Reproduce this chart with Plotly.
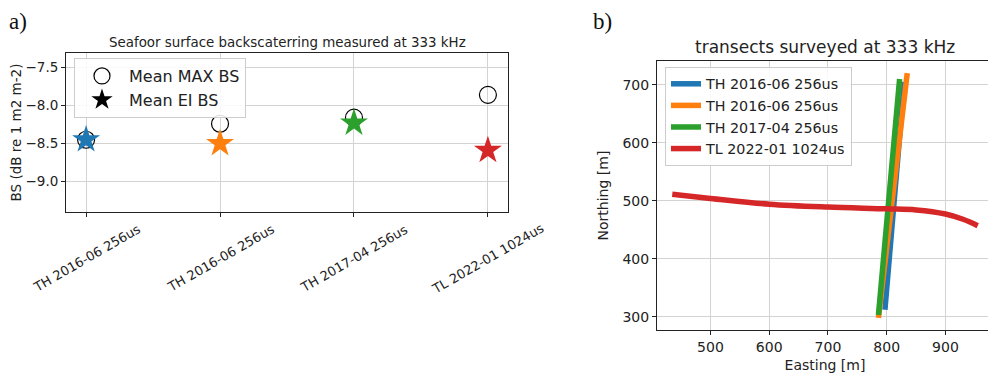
import plotly.graph_objects as go

# ---------------- data ----------------
survey_labels = ["TH 2016-06 256us", "TH 2016-06 256us", "TH 2017-04 256us", "TL 2022-01 1024us"]
mean_max_bs = [-8.45, -8.24, -8.16, -7.86]
mean_ei_bs = [-8.45, -8.50, -8.23, -8.59]
series_colors = ["#1f77b4", "#ff7f0e", "#2ca02c", "#d62728"]

transect_names = ["TH 2016-06 256us", "TH 2016-06 256us", "TH 2017-04 256us", "TL 2022-01 1024us"]
east_th1 = [797, 830]
north_th1 = [312, 705]
east_th2 = [786, 835]
north_th2 = [298, 720]
east_th3 = [786, 822]
north_th3 = [303, 710]
east_tl = [435, 500, 600, 700, 800, 850, 900, 930, 955]
north_tl = [511, 504, 494, 489, 486, 484, 477, 468, 457]

left_yticks = [-7.5, -8.0, -8.5, -9.0]
right_xticks = [500, 600, 700, 800, 900]
right_yticks = [300, 400, 500, 600, 700]

# The page body has an 8px margin: the figure is drawn at (8, 8) in the window
OFF = 8
W, H = 996 - OFF, 375 - OFF
FONT = "DejaVu Sans"
GRID = "#d3d3d3"


def px(x):  # window x pixel -> paper x
    return (x - OFF) / W


def py(y):  # window y pixel -> paper y
    return (H - (y - OFF)) / H


fig = go.Figure()

# ---------------- left panel ----------------
xs = list(range(len(survey_labels)))
fig.add_trace(go.Scatter(
    x=xs, y=mean_max_bs, mode="markers", xaxis="x", yaxis="y",
    marker=dict(symbol="circle-open", size=17, color="black", line=dict(width=1.2)),
    showlegend=False))
for i in xs:
    fig.add_trace(go.Scatter(
        x=[xs[i]], y=[mean_ei_bs[i]], mode="markers", xaxis="x", yaxis="y",
        marker=dict(symbol="star", size=21, color=series_colors[i], line=dict(width=0)),
        showlegend=False))
# legend entries
fig.add_trace(go.Scatter(x=[None], y=[None], mode="markers", xaxis="x", yaxis="y",
                         name="Mean MAX BS", legend="legend",
                         marker=dict(symbol="circle-open", size=17, color="black", line=dict(width=1.2))))
fig.add_trace(go.Scatter(x=[None], y=[None], mode="markers", xaxis="x", yaxis="y",
                         name="Mean EI BS", legend="legend",
                         marker=dict(symbol="star", size=21, color="black")))

# ---------------- right panel ----------------
tr = [(east_th1, north_th1), (east_th2, north_th2), (east_th3, north_th3), (east_tl, north_tl)]
for i, (e, n) in enumerate(tr):
    fig.add_trace(go.Scatter(
        x=e, y=n, mode="lines", xaxis="x2", yaxis="y2", name=transect_names[i],
        legend="legend2",
        line=dict(color=series_colors[i], width=5.5, shape="spline" if i == 3 else "linear")))

axis_common = dict(showline=True, linecolor="#222222", linewidth=1, mirror=True,
                   showgrid=True, gridcolor=GRID, gridwidth=1, zeroline=False,
                   ticks="outside", ticklen=4, tickcolor="#222222", automargin=False)

fig.update_layout(
    width=W, height=H,
    margin=dict(l=0, r=0, t=0, b=0),
    paper_bgcolor="white", plot_bgcolor="white",
    font=dict(family=FONT, color="#222222"),
    xaxis=dict(domain=[px(66), px(508)], range=[-0.15, 3.15], tickvals=xs,
               ticktext=["" for _ in xs], anchor="y", **axis_common),
    yaxis=dict(domain=[py(212), py(53)], range=[-9.40, -7.31],
               tickvals=left_yticks, ticktext=[f"\u2212{abs(v):.1f}" for v in left_yticks],
               tickfont=dict(size=13.5), anchor="x",
               title=dict(text="BS (dB re 1 m2 m-2)", font=dict(size=13.5), standoff=5),
               **axis_common),
    xaxis2=dict(domain=[px(657), px(993)], range=[409, 981], tickvals=right_xticks,
                tickfont=dict(size=14), anchor="y2",
                title=dict(text="Easting [m]", font=dict(size=14), standoff=6),
                **axis_common),
    yaxis2=dict(domain=[py(330), py(61)], range=[277, 741], tickvals=right_yticks,
                tickfont=dict(size=14), anchor="x2",
                title=dict(text="Northing [m]", font=dict(size=14), standoff=10),
                **axis_common),
    legend=dict(x=px(74), y=py(58), xanchor="left", yanchor="top",
                bgcolor="rgba(255,255,255,0.85)", bordercolor="#cccccc", borderwidth=1,
                font=dict(size=16), itemsizing="trace", itemwidth=44, tracegroupgap=0),
    legend2=dict(x=px(665), y=py(67), xanchor="left", yanchor="top",
                 bgcolor="rgba(255,255,255,0.85)", bordercolor="#cccccc", borderwidth=1,
                 font=dict(size=14.3), tracegroupgap=0),
)

annotations = []
# rotated category labels for the left panel (centred on their ticks)
for i, lab in enumerate(survey_labels):
    annotations.append(dict(x=xs[i], y=py(258), xref="x", yref="paper", text=lab,
                            textangle=-30, showarrow=False, xanchor="center", yanchor="middle",
                            font=dict(size=13, family=FONT, color="#222222")))
# titles
annotations.append(dict(x=px((66 + 508) / 2), y=py(43), xref="paper", yref="paper",
                        text="Seafoor surface backscaterring measured at 333 kHz",
                        showarrow=False, xanchor="center", yanchor="middle",
                        font=dict(size=13.4, family=FONT, color="#222222")))
annotations.append(dict(x=px((657 + 993) / 2), y=py(47), xref="paper", yref="paper",
                        text="transects surveyed at 333 kHz",
                        showarrow=False, xanchor="center", yanchor="middle",
                        font=dict(size=17, family=FONT, color="#222222")))
# panel letters
annotations.append(dict(x=0, y=1, xref="paper", yref="paper", text="a)",
                        showarrow=False, xanchor="left", yanchor="top", borderpad=0,
                        font=dict(size=23, family="Liberation Serif", color="#111111")))
annotations.append(dict(x=px(592), y=1, xref="paper", yref="paper", text="b)",
                        showarrow=False, xanchor="left", yanchor="top", borderpad=0,
                        font=dict(size=23, family="Liberation Serif", color="#111111")))
fig.update_layout(annotations=annotations)

fig.write_html("out.html")
